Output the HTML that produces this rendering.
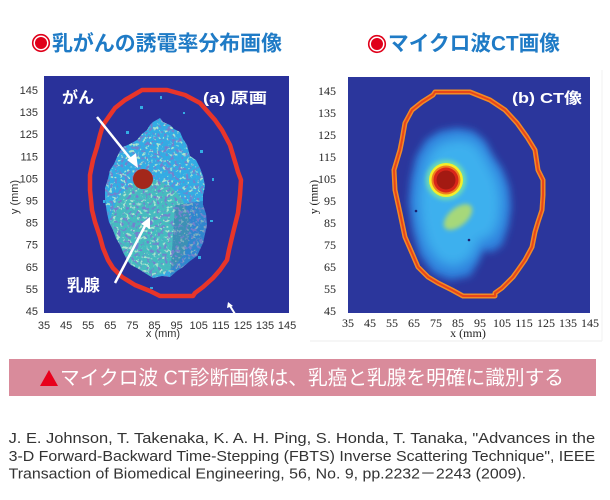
<!DOCTYPE html>
<html><head><meta charset="utf-8"><style>
html,body{margin:0;padding:0;background:#fff;}
svg{display:block;}
</style></head><body>
<svg width="610" height="500" viewBox="0 0 610 500" xmlns="http://www.w3.org/2000/svg">
<defs>
  <clipPath id="blobA"><polygon points="160,118 163,122 170,125 174,129 180,132 183,139 187,145 190,156 196,160 200,168 203,176 205,186 203,195 203,205 206,214 207,225 205,234 203,243 197,256 190,261 183,267 177,271 170,277 162,276 153,278 145,273 137,268 131,265 127,260 123,252 120,245 116,238 113,230 109,222 107,213 105,200 105,188 108,179 110,170 114,164 117,157 120,151 123,147 130,144 137,140 142,134 147,130 150,125 153,122"/></clipPath>
  <filter id="spk" x="0" y="0" width="1" height="1">
    <feTurbulence type="fractalNoise" baseFrequency="0.28" numOctaves="2" seed="7"/>
    <feColorMatrix type="matrix" values="0 0 0 0 0.17  0 0 0 0 0.22  0 0 0 0 0.62  9 0 0 0 -5"/>
  </filter>
  <filter id="spk2" x="0" y="0" width="1" height="1">
    <feTurbulence type="fractalNoise" baseFrequency="0.3" numOctaves="2" seed="11"/>
    <feColorMatrix type="matrix" values="0 0 0 0 0.4  0 0 0 0 0.78  0 0 0 0 0.62  9 0 0 0 -5.2"/>
  </filter>
  <filter id="b4" x="-30%" y="-30%" width="160%" height="160%"><feGaussianBlur stdDeviation="4"/></filter>
  <filter id="b6" x="-30%" y="-30%" width="160%" height="160%"><feGaussianBlur stdDeviation="6"/></filter>
  <filter id="b2" x="-50%" y="-50%" width="200%" height="200%"><feGaussianBlur stdDeviation="2"/></filter>
  <clipPath id="plotB"><rect x="348" y="77" width="242" height="236"/></clipPath>
</defs>

<!-- Titles -->
<circle cx="41" cy="43" r="8.3" fill="#fff" stroke="#e0001a" stroke-width="1.6"/>
<circle cx="41" cy="43" r="6" fill="#e0001a"/>
<text x="52" y="50.5" textLength="230" lengthAdjust="spacingAndGlyphs" font-family="'Liberation Sans','Noto Sans CJK JP',sans-serif" font-weight="bold" font-size="21" fill="#1f7bc6">乳がんの誘電率分布画像</text>
<circle cx="377" cy="44" r="8.3" fill="#fff" stroke="#e0001a" stroke-width="1.6"/>
<circle cx="377" cy="44" r="6" fill="#e0001a"/>
<text x="388" y="50.5" textLength="172" lengthAdjust="spacingAndGlyphs" font-family="'Liberation Sans','Noto Sans CJK JP',sans-serif" font-weight="bold" font-size="21" fill="#1f7bc6">マイクロ波CT画像</text>

<!-- Plot A -->
<rect x="44" y="76" width="245" height="237" fill="#29319a"/>
<g clip-path="url(#blobA)">
  <rect x="100" y="115" width="112" height="168" fill="#33ace4"/>
  <ellipse cx="150" cy="228" rx="40" ry="48" fill="#4ec0b4" opacity="0.75"/>
  <rect x="100" y="115" width="112" height="168" fill="#000" filter="url(#spk2)"/>
  <polygon points="175,205 210,200 210,270 170,280" fill="#29319a" opacity="0.3"/>
  <rect x="100" y="115" width="112" height="168" fill="#000" filter="url(#spk)"/>
</g>
<g fill="#33ace4">
  <rect x="140" y="106" width="3" height="3"/><rect x="160" y="96" width="2" height="3"/>
  <rect x="126" y="131" width="3" height="3"/><rect x="200" y="150" width="3" height="3"/>
  <rect x="212" y="178" width="2" height="3"/><rect x="210" y="220" width="3" height="2"/>
  <rect x="198" y="256" width="3" height="3"/><rect x="103" y="200" width="2" height="3"/>
  <rect x="150" y="287" width="3" height="2"/><rect x="183" y="112" width="2" height="2"/>
</g>
<polygon points="142,90 167,90 185,95 200,103 215,120 222,130 230,145 236,165 238,172 241,180 240,195 238,213 233,233 229,250 227,260 220,270 213,278 203,287 195,293 193,296 160,296 150,291 135,285 122,277 113,268 108,260 103,248 100,237 95,222 92,210 90,190 90,175 93,160 97,147 100,135 103,125 110,115 115,108 125,100 137,93" fill="none" stroke="#e8352a" stroke-width="4.5" stroke-linejoin="round"/>
<circle cx="143" cy="179" r="10" fill="#a3271a"/>
<!-- arrows -->
<g stroke="#fff" stroke-width="2.5" fill="#fff">
  <line x1="97" y1="117" x2="133" y2="162"/>
  <line x1="115" y1="283" x2="146" y2="224"/>
  <line x1="235" y1="314" x2="230" y2="306" stroke-width="2"/>
</g>
<polygon points="138,168 127,160 136,153" fill="#fff"/>
<polygon points="150,217 150,229 141,224" fill="#fff"/>
<polygon points="228,302 233,306 227,308" fill="#fff"/>
<text x="62" y="103" font-family="'Liberation Sans','Noto Sans CJK JP',sans-serif" font-weight="bold" font-size="16" fill="#fff">がん</text>
<text x="67" y="291" font-family="'Liberation Sans','Noto Sans CJK JP',sans-serif" font-weight="bold" font-size="16.5" fill="#fff">乳腺</text>
<text x="203" y="103" textLength="64" lengthAdjust="spacingAndGlyphs" font-family="'Liberation Sans','Noto Sans CJK JP',sans-serif" font-weight="bold" font-size="15" fill="#fff">(a) 原画</text>

<!-- Axis labels A -->
<g font-family="'Liberation Sans',sans-serif" font-size="11" fill="#333" text-anchor="end">
  <text x="38" y="94">145</text><text x="38" y="116">135</text><text x="38" y="138">125</text>
  <text x="38" y="160.5">115</text><text x="38" y="182.5">105</text><text x="38" y="204.5">95</text>
  <text x="38" y="226.5">85</text><text x="38" y="248.5">75</text><text x="38" y="271">65</text>
  <text x="38" y="293">55</text><text x="38" y="315">45</text>
</g>
<g font-family="'Liberation Sans',sans-serif" font-size="11" fill="#333" text-anchor="middle">
  <text x="44" y="329">35</text><text x="66.1" y="329">45</text><text x="88.2" y="329">55</text>
  <text x="110.3" y="329">65</text><text x="132.4" y="329">75</text><text x="154.5" y="329">85</text>
  <text x="176.6" y="329">95</text><text x="198.7" y="329">105</text><text x="220.8" y="329">115</text>
  <text x="242.9" y="329">125</text><text x="265" y="329">135</text><text x="287.1" y="329">145</text>
  <text x="163" y="337">x (mm)</text>
  <text transform="translate(18,197) rotate(-90)">y (mm)</text>
</g>

<!-- Plot B -->
<rect x="348" y="77" width="242" height="236" fill="#2b369c"/>
<g clip-path="url(#plotB)">
  <polygon points="457,128 473,131 485,141 492,155 502,169 509,187 511,207 508,227 502,245 492,252 483,250 478,262 470,276 450,280 433,273 420,255 413,230 409,203 411,180 416,157 426,140 440,131" fill="#2d7fdc" filter="url(#b4)"/>
  <polygon points="456,138 472,140 482,150 490,165 498,180 502,200 500,222 492,238 480,240 472,258 455,268 438,262 426,245 420,222 418,198 421,175 427,156 438,143" fill="#3cb0ee" filter="url(#b6)"/>
  <ellipse cx="458" cy="217" rx="17" ry="9" transform="rotate(-40 458 217)" fill="#a6d87a" filter="url(#b2)"/>
  <circle cx="446" cy="180" r="20" fill="#70dcae" filter="url(#b2)"/>
  <circle cx="446" cy="180" r="17" fill="#f4ee2a"/>
  <circle cx="446" cy="180" r="14.5" fill="#f0801e"/>
  <circle cx="446" cy="180" r="12.5" fill="#d8261a"/>
  <circle cx="446" cy="180" r="9.5" fill="#a31a12"/>
  <circle cx="416" cy="211" r="1.3" fill="#1a2070"/>
  <circle cx="469" cy="240" r="1.3" fill="#1a2070"/>
  <polygon points="435,92 470,92 490,100 505,110 517,123 527,137 535,150 538,170 543,180 543,195 542,210 538,222 535,232 532,247 525,260 518,270 513,277 502,288 495,293 495,296 463,296 452,290 438,283 428,277 418,267 412,253 405,237 400,213 395,190 394,170 397,160 400,150 402,140 405,123 412,110 422,102 433,95" fill="none" stroke="#f28a25" stroke-width="5" stroke-linejoin="round"/>
  <polygon points="435,92 470,92 490,100 505,110 517,123 527,137 535,150 538,170 543,180 543,195 542,210 538,222 535,232 532,247 525,260 518,270 513,277 502,288 495,293 495,296 463,296 452,290 438,283 428,277 418,267 412,253 405,237 400,213 395,190 394,170 397,160 400,150 402,140 405,123 412,110 422,102 433,95" fill="none" stroke="#e8461a" stroke-width="2" stroke-linejoin="round"/>
</g>
<text x="512" y="103" textLength="70" lengthAdjust="spacingAndGlyphs" font-family="'Liberation Sans','Noto Sans CJK JP',sans-serif" font-weight="bold" font-size="15" fill="#fff">(b) CT像</text>

<g font-family="'Liberation Serif',serif" font-size="12" fill="#222" text-anchor="end">
  <text x="336" y="95">145</text><text x="336" y="117">135</text><text x="336" y="139">125</text>
  <text x="336" y="161">115</text><text x="336" y="183">105</text><text x="336" y="205">95</text>
  <text x="336" y="227">85</text><text x="336" y="249">75</text><text x="336" y="271">65</text>
  <text x="336" y="293">55</text><text x="336" y="315">45</text>
</g>
<g font-family="'Liberation Serif',serif" font-size="12" fill="#222" text-anchor="middle">
  <text x="348" y="327">35</text><text x="370" y="327">45</text><text x="392" y="327">55</text>
  <text x="414" y="327">65</text><text x="436" y="327">75</text><text x="458" y="327">85</text>
  <text x="480" y="327">95</text><text x="502" y="327">105</text><text x="524" y="327">115</text>
  <text x="546" y="327">125</text><text x="568" y="327">135</text><text x="590" y="327">145</text>
  <text x="468" y="337">x (mm)</text>
  <text transform="translate(317.5,197) rotate(-90)" font-size="11.5">y (mm)</text>
</g>
<line x1="310" y1="341" x2="602" y2="341" stroke="#eeeeee" stroke-width="1"/>
<line x1="602" y1="70" x2="602" y2="341" stroke="#f2f2f2" stroke-width="1"/>

<!-- Banner -->
<rect x="9" y="359" width="587" height="37" fill="#d98b9b"/>
<polygon points="40,386 58,386 49,370" fill="#e8001c"/>
<text x="60" y="384.5" textLength="504" lengthAdjust="spacingAndGlyphs" font-family="'Liberation Sans','Noto Sans CJK JP',sans-serif" font-size="20" fill="#fff">マイクロ波 CT診断画像は、乳癌と乳腺を明確に識別する</text>

<!-- Citation -->
<g font-family="'Liberation Sans',sans-serif" font-size="15" fill="#333">
  <text x="8.6" y="443" textLength="586.5" lengthAdjust="spacingAndGlyphs">J. E. Johnson, T. Takenaka, K. A. H. Ping, S. Honda, T. Tanaka, "Advances in the</text>
  <text x="8.6" y="461" textLength="586.5" lengthAdjust="spacingAndGlyphs">3-D Forward-Backward Time-Stepping (FBTS) Inverse Scattering Technique", IEEE</text>
  <text x="8.6" y="478.5" textLength="517.5" lengthAdjust="spacingAndGlyphs">Transaction of Biomedical Engineering, 56, No. 9, pp.2232－2243 (2009).</text>
</g>
</svg>
</body></html>
